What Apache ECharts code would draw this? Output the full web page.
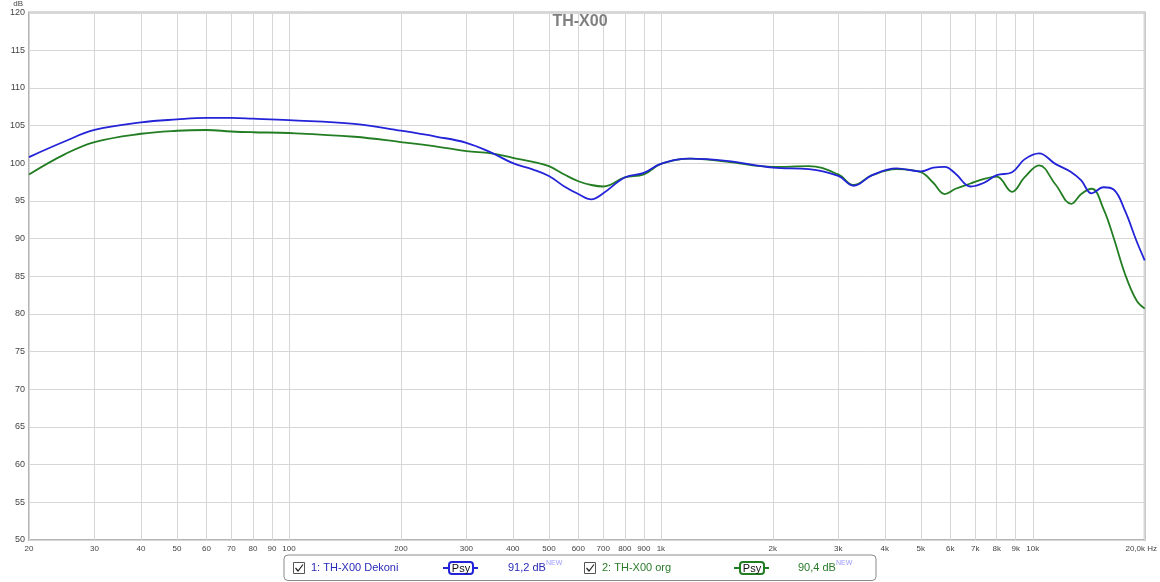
<!DOCTYPE html>
<html>
<head>
<meta charset="utf-8">
<script src="https://cdn.jsdelivr.net/npm/echarts@6/dist/echarts.min.js"></script>
<style>html,body{margin:0;padding:0;background:#fff}#c{width:1160px;height:582px}</style>
</head>
<body>
<div id="c"></div>
<script>
const freqs = [20,25,30,40,50,60,70,80,100,150,200,250,300,350,400,450,500,550,600,650,700,800,900,1000,1200,1500,2000,2500,3000,3300,3700,4300,5000,5400,5800,6200,6800,7400,8000,8800,9500,10400,11500,12700,13500,14400,15500,16500,17700,19000,20000];
const dekoni = [100.8,102.9,104.4,105.4,105.8,106.0,106.0,105.9,105.7,105.2,104.3,103.5,102.7,101.4,100.0,99.2,98.3,96.9,95.9,95.2,96.0,98.1,98.7,99.9,100.6,100.3,99.4,99.2,98.3,97.0,98.4,99.3,98.9,99.4,99.5,98.6,96.9,97.4,98.4,98.8,100.5,101.3,99.9,98.8,97.7,96.0,96.8,96.5,93.7,89.7,87.1];
const org = [98.5,101.2,102.8,103.9,104.3,104.4,104.2,104.1,104.0,103.5,102.8,102.2,101.6,101.3,100.7,100.2,99.6,98.5,97.6,97.1,96.9,98.1,98.5,99.9,100.6,100.2,99.5,99.6,98.5,97.1,98.4,99.2,98.8,97.4,95.9,96.6,97.3,97.9,98.2,96.2,98.1,99.7,97.2,94.6,95.9,96.6,93.9,90.1,85.3,81.8,80.7];
const xTicks = [20,30,40,50,60,70,80,90,100,200,300,400,500,600,700,800,900,1000,2000,3000,4000,5000,6000,7000,8000,9000,10000,20000];
const yTicks = [50,55,60,65,70,75,80,85,90,95,100,105,110,115,120];
const seriesNames = ['1: TH-X00 Dekoni','2: TH-X00 org'];
const levels = ['91,2 dB','90,4 dB'];
const colors = ['#2323d8','#237d23'];
const textColors = ['#2a2ab8','#2a7a2a'];

function fmtX(v){
  v = Math.round(v);
  if (v === 20000) return '{last|20,0k Hz}';
  if (v >= 1000) return (v/1000)+'k';
  return String(v);
}

function legendItem(i, x0){
  const cy = 568;
  const els = [];
  els.push({type:'rect', shape:{x:x0+9.5, y:cy-5.5, width:11, height:11}, style:{fill:'#fff', stroke:'#555', lineWidth:1}});
  els.push({type:'polyline', shape:{points:[[x0+11.5,cy],[x0+14,cy+3],[x0+19,cy-3.5]]}, style:{stroke:'#222', lineWidth:1.2, fill:null}});
  els.push({type:'text', x:x0+27, y:cy, style:{text:seriesNames[i], fill:textColors[i], font:'11px "Liberation Sans", Arial, sans-serif', verticalAlign:'middle'}});
  return els;
}
function psyItem(i, lx, tx){
  const cy = 568;
  return [
    {type:'line', shape:{x1:lx, y1:cy, x2:lx+35, y2:cy}, style:{stroke:colors[i], lineWidth:2}},
    {type:'rect', shape:{x:lx+6, y:cy-6, width:24, height:12, r:3}, style:{fill:'#fff', stroke:colors[i], lineWidth:2}},
    {type:'text', x:lx+18, y:cy+0.5, style:{text:'Psy', fill:'#111', font:'11px "Liberation Sans", Arial, sans-serif', align:'center', verticalAlign:'middle'}},
    {type:'text', x:tx, y:cy, style:{text:levels[i], fill:textColors[i], font:'11px "Liberation Sans", Arial, sans-serif', verticalAlign:'middle'}},
    {type:'text', x:tx+38, y:cy-5, style:{text:'NEW', fill:'#9a9aff', font:'7px "Liberation Sans", Arial, sans-serif', verticalAlign:'middle'}}
  ];
}

const chart = echarts.init(document.getElementById('c'), null, {renderer:'canvas'});
chart.setOption({
  animation:false,
  backgroundColor:'#fff',
  title:{text:'TH-X00', left:'center', top:9, textStyle:{color:'#808080', fontSize:16, fontWeight:'bold', fontFamily:'"Liberation Sans", Arial, sans-serif'}},
  grid:{left:29, right:14, top:11, bottom:42, show:true, borderColor:'#b4b4b4', borderWidth:2, backgroundColor:'transparent'},
  xAxis:{
    type:'log', logBase:10, min:20, max:20000,
    axisLine:{show:false},
    axisTick:{show:false, customValues:xTicks},
    splitLine:{show:true, lineStyle:{color:'#d6d6d6', width:1}},
    minorSplitLine:{show:false},
    axisLabel:{customValues:xTicks, formatter:fmtX, color:'#444', fontSize:8, margin:5, fontFamily:'"Liberation Sans", Arial, sans-serif',
      rich:{last:{fontSize:8, color:'#444', padding:[0,7,0,0], fontFamily:'"Liberation Sans", Arial, sans-serif'}}}
  },
  yAxis:{
    type:'value', min:yTicks[0], max:yTicks[yTicks.length-1], interval:5,
    name:'dB', nameLocation:'end', nameGap:2, nameTextStyle:{color:'#444', fontSize:8, align:'right', padding:[0,6,-2,0]},
    axisLine:{show:false}, axisTick:{show:false},
    splitLine:{show:true, lineStyle:{color:'#d6d6d6', width:1}},
    axisLabel:{color:'#444', fontSize:9, margin:4, fontFamily:'"Liberation Sans", Arial, sans-serif'}
  },
  series:[
    {name:seriesNames[1], type:'line', data:freqs.map((f,i)=>[f,org[i]]), smooth:0.4, showSymbol:false, symbol:'none', lineStyle:{color:colors[1], width:1.8}, z:2},
    {name:seriesNames[0], type:'line', data:freqs.map((f,i)=>[f,dekoni[i]]), smooth:0.4, showSymbol:false, symbol:'none', lineStyle:{color:colors[0], width:1.8}, z:3}
  ],
  graphic:[
    {type:'rect', shape:{x:284, y:555, width:592, height:25.5, r:4}, style:{fill:'#fff', stroke:'#8a8a8a', lineWidth:1}},
    ...legendItem(0, 284),
    ...psyItem(0, 443, 508),
    ...legendItem(1, 575),
    ...psyItem(1, 734, 798)
  ]
});
</script>
</body>
</html>
